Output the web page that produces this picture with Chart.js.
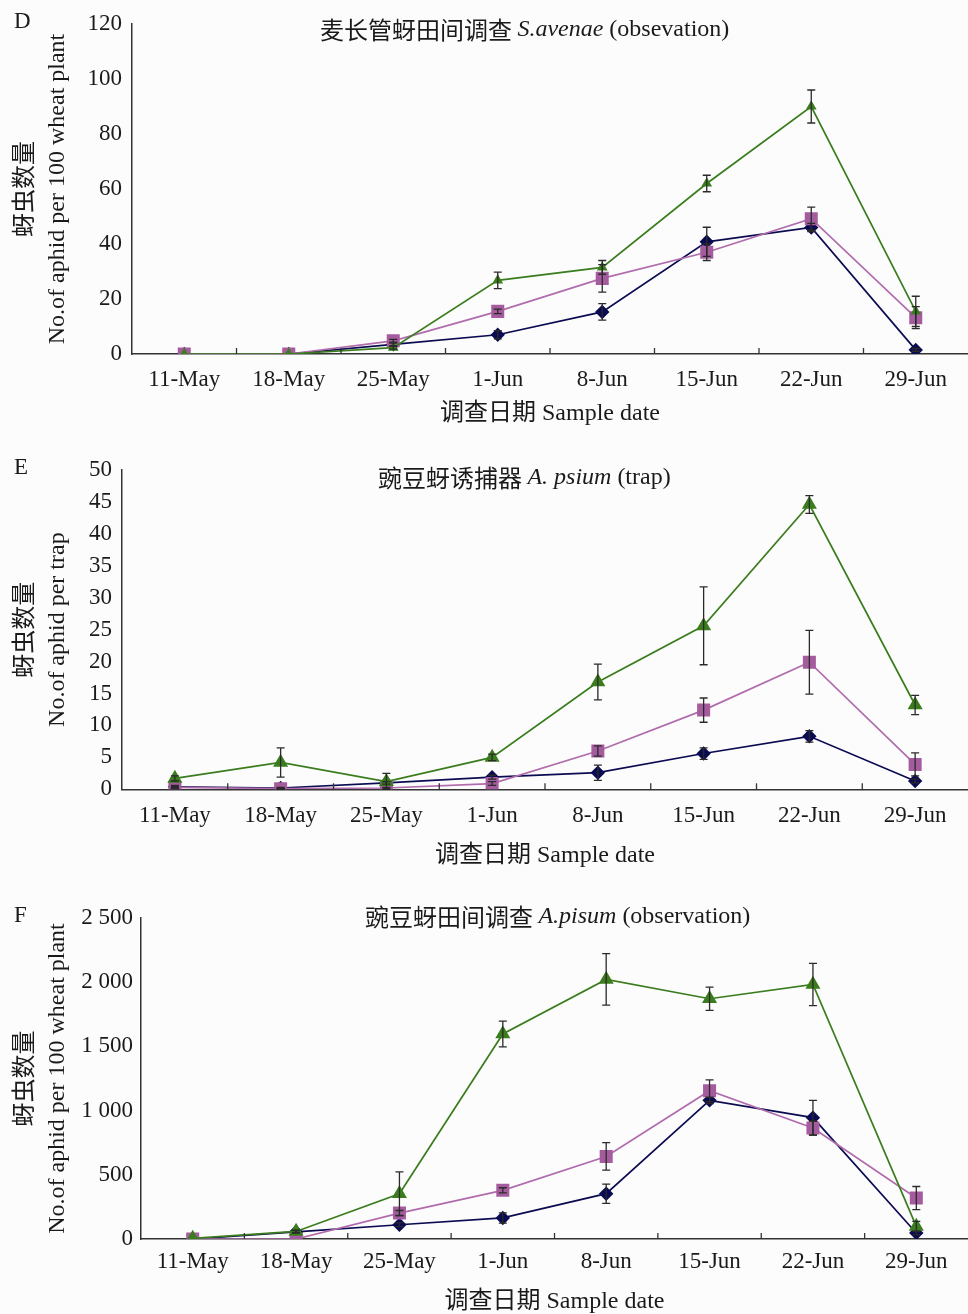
<!DOCTYPE html>
<html>
<head>
<meta charset="utf-8">
<title>Aphid counts</title>
<script src="https://cdn.jsdelivr.net/npm/chart.js@4/dist/chart.umd.min.js"></script>
<style>
    html, body { margin: 0; padding: 0; background: #fcfcfc; }
    body { width: 968px; height: 1314px; position: relative; overflow: hidden; }
    canvas { position: absolute; left: 0; }
</style>
</head>
<body>
<canvas id="chartD" width="968" height="430" style="top:0px"></canvas>
<canvas id="chartE" width="968" height="424" style="top:446px"></canvas>
<canvas id="chartF" width="968" height="420" style="top:894px"></canvas>
<script>
const dates = ["11-May", "18-May", "25-May", "1-Jun", "8-Jun", "15-Jun", "22-Jun", "29-Jun"];

// D: S. avenae field observation
const navyD = [0, 0, 3.5, 7, 15.3, 40.8, 46, 1.5];
const navyErrD = [0, 0, 0.5, 1.5, 3, 5.3, 1.5, 0.5];
const pinkD = [0, 0, 4.8, 15.5, 27.5, 37, 49.2, 13.2];
const pinkErrD = [0, 0, 0.5, 0.8, 5, 3, 4.2, 4];
const greenD = [0, 0, 2.3, 26.8, 31.5, 62, 90, 15.5];
const greenErrD = [0, 0, 0.5, 3, 2.5, 3, 6, 5.5];

// E: A. pisum trap
const navyE = [0.4, 0.2, 1.0, 1.9, 2.6, 5.6, 8.3, 1.3];
const navyErrE = [0.2, 0.1, 0.2, 0.3, 1.2, 0.9, 0.9, 0.3];
const pinkE = [0.3, 0.1, 0.2, 0.9, 6.0, 12.4, 19.9, 3.9];
const pinkErrE = [0.1, 0.1, 0.1, 0.3, 0.8, 1.9, 5, 1.8];
const greenE = [1.7, 4.2, 1.2, 5.0, 16.8, 25.6, 44.6, 13.2];
const greenErrE = [0.4, 2.3, 1.3, 0.5, 2.8, 6.1, 1.4, 1.5];

// F: A. pisum field observation
const navyF = [0, 55, 111, 164, 353, 1080, 945, 47];
const navyErrF = [0, 10, 15, 40, 75, 25, 135, 15];
const pinkF = [0, 0, 202, 379, 643, 1155, 864, 319];
const pinkErrF = [0, 0, 20, 20, 107, 85, 55, 90];
const greenF = [5, 59, 353, 1597, 2022, 1871, 1982, 98];
const greenErrF = [0, 10, 170, 100, 200, 90, 165, 40];

const serif = "'Liberation Serif', 'Noto Sans CJK SC', serif";
const cjk = "'Noto Sans CJK SC', sans-serif";
const NAVY = "#0b0b52";
const PINK_LINE = "#b06cac";
const PINK = "#a55c9e";
const GREEN = "#3b7d1e";

// error bars drawn over the points
const errorBars = {
    id: "errorBars",
    afterDatasetsDraw(chart) {
        const ctx = chart.ctx;
        const y = chart.scales.y;
        ctx.save();
        ctx.strokeStyle = "#2a2a2a";
        ctx.lineWidth = 1.3;
        chart.data.datasets.forEach((ds, i) => {
            if (!ds.errors) return;
            const meta = chart.getDatasetMeta(i);
            meta.data.forEach((pt, j) => {
                const e = ds.errors[j];
                if (!e) return;
                const top = y.getPixelForValue(ds.data[j] + e);
                const bot = y.getPixelForValue(Math.max(ds.data[j] - e, 0));
                ctx.beginPath();
                ctx.moveTo(pt.x, top); ctx.lineTo(pt.x, bot);
                ctx.moveTo(pt.x - 4, top); ctx.lineTo(pt.x + 4, top);
                ctx.moveTo(pt.x - 4, bot); ctx.lineTo(pt.x + 4, bot);
                ctx.stroke();
            });
        });
        ctx.restore();
    }
};

// panel letter, rich title and inward x ticks
const decor = {
    id: "decor",
    afterDraw(chart, args, opts) {
        const ctx = chart.ctx;
        const x = chart.scales.x;
        const bottom = chart.chartArea.bottom;
        ctx.save();
        ctx.strokeStyle = "#333";
        ctx.lineWidth = 1.3;
        for (let i = 1; i < dates.length; i++) {
            const px = x.getPixelForValue(i - 0.5);
            ctx.beginPath();
            ctx.moveTo(px, bottom);
            ctx.lineTo(px, bottom - 6);
            ctx.stroke();
        }
        ctx.fillStyle = "#1a1a1a";
        ctx.textBaseline = "middle";
        ctx.font = "23px " + serif;
        ctx.fillText(opts.letter, 14, 22);
        let cx = opts.titleX;
        opts.title.forEach(seg => {
            ctx.font = seg.font;
            ctx.fillText(seg.text, cx, opts.titleY);
            cx += ctx.measureText(seg.text).width;
        });
        ctx.restore();
    }
};

function series(label, data, errors, color, lineColor, style, radius) {
    return {
        label: label,
        data: data,
        errors: errors,
        borderColor: lineColor,
        backgroundColor: color,
        pointBackgroundColor: color,
        pointBorderColor: color,
        pointStyle: style,
        pointRadius: radius,
        borderWidth: 1.7,
        tension: 0
    };
}

function makeChart(id, cfg) {
    const ctx = document.getElementById(id).getContext("2d");
    return new Chart(ctx, {
        type: "line",
        data: {
            labels: dates,
            datasets: [
                series("green", cfg.green, cfg.greenErr, GREEN, GREEN, "triangle", cfg.triRadius),
                series("pink", cfg.pink, cfg.pinkErr, PINK, PINK_LINE, "rect", 8),
                series("navy", cfg.navy, cfg.navyErr, NAVY, NAVY, "rectRot", 6)
            ]
        },
        options: {
            responsive: false,
            animation: false,
            layout: { autoPadding: false, padding: { top: cfg.top, left: 0, right: 0, bottom: 0 } },
            plugins: {
                legend: { display: false },
                tooltip: { enabled: false },
                decor: { letter: cfg.letter, title: cfg.title, titleX: cfg.titleX, titleY: cfg.titleY }
            },
            scales: {
                x: {
                    offset: true,
                    grid: { display: false },
                    border: { color: "#333", width: 1.5 },
                    ticks: {
                        color: "#1a1a1a",
                        font: { family: serif, size: 23 },
                        padding: cfg.tickPad,
                        maxRotation: 0,
                        autoSkip: false
                    },
                    title: {
                        display: true,
                        text: "调查日期 Sample date",
                        color: "#1a1a1a",
                        font: { family: serif, size: 24, lineHeight: 1.2 },
                        padding: { top: 0, bottom: cfg.xTitlePad }
                    },
                    afterFit: s => {
                        s.height = cfg.xHeight;
                        s.paddingLeft = 0;
                        s.paddingRight = 0;
                    }
                },
                y: {
                    min: 0,
                    max: cfg.max,
                    grid: { display: false, drawTicks: false },
                    border: { color: "#333", width: 1.5 },
                    ticks: {
                        stepSize: cfg.step,
                        color: "#1a1a1a",
                        font: { family: serif, size: 23 },
                        padding: cfg.yTickPad,
                        callback: v => v >= 1000 ? String(v).replace(/(\d)(\d{3})$/, "$1 $2") : v
                    },
                    title: {
                        display: true,
                        text: ["蚜虫数量", cfg.yTitle],
                        color: "#1a1a1a",
                        font: { family: serif, size: 24, lineHeight: 32 / 24 },
                        padding: { top: 10, bottom: 0 }
                    },
                    afterFit: s => { s.width = cfg.yWidth; }
                }
            }
        },
        plugins: [errorBars, decor]
    });
}

makeChart("chartD", {
    letter: "D",
    title: [
        { text: "麦长管蚜田间调查 ", font: "24px " + cjk },
        { text: "S.avenae", font: "italic 24px " + serif },
        { text: " (obsevation)", font: "24px " + serif }
    ],
    titleX: 320, titleY: 30,
    navy: navyD, navyErr: navyErrD, pink: pinkD, pinkErr: pinkErrD, green: greenD, greenErr: greenErrD,
    triRadius: 4.5, max: 120, step: 20,
    yTitle: "No.of aphid per 100 wheat plant",
    top: 24, yWidth: 132, yTickPad: 10, xHeight: 76, tickPad: 4, xTitlePad: 2
});

makeChart("chartE", {
    letter: "E",
    title: [
        { text: "豌豆蚜诱捕器 ", font: "24px " + cjk },
        { text: "A. psium", font: "italic 24px " + serif },
        { text: " (trap)", font: "24px " + serif }
    ],
    titleX: 378, titleY: 32,
    navy: navyE, navyErr: navyErrE, pink: pinkE, pinkErr: pinkErrE, green: greenE, greenErr: greenErrE,
    triRadius: 7, max: 50, step: 5,
    yTitle: "No.of aphid per trap",
    top: 24, yWidth: 122, yTickPad: 10, xHeight: 80.7, tickPad: 4.5, xTitlePad: 0
});

makeChart("chartF", {
    letter: "F",
    title: [
        { text: "豌豆蚜田间调查 ", font: "24px " + cjk },
        { text: "A.pisum", font: "italic 24px " + serif },
        { text: " (observation)", font: "24px " + serif }
    ],
    titleX: 365, titleY: 23,
    navy: navyF, navyErr: navyErrF, pink: pinkF, pinkErr: pinkErrF, green: greenF, greenErr: greenErrF,
    triRadius: 7, max: 2500, step: 500,
    yTitle: "No.of aphid per 100 wheat plant",
    top: 24, yWidth: 141, yTickPad: 8, xHeight: 75, tickPad: 1.5, xTitlePad: -2
});
</script>
</body>
</html>
